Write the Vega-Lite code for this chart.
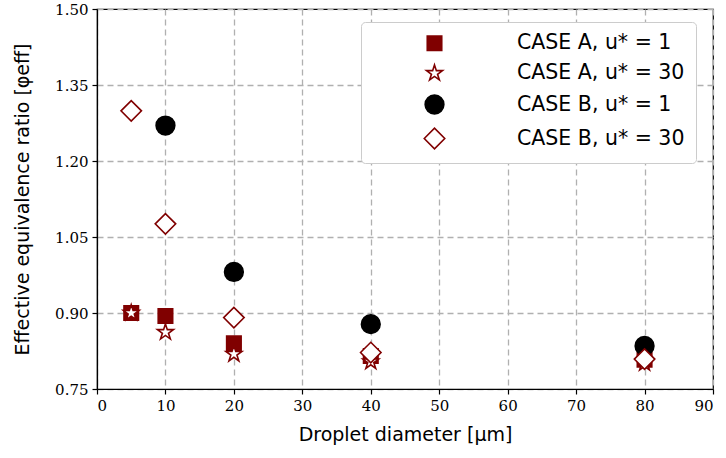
{
  "$schema": "https://vega.github.io/schema/vega-lite/v6.json",
  "width": 616,
  "height": 380,
  "autosize": {"type": "none"},
  "padding": {"left": 97, "top": 9, "right": 13, "bottom": 69},
  "background": "white",
  "config": {
    "view": {"stroke": "black", "strokeWidth": 1.2},
    "axis": {
      "domainColor": "black",
      "domainWidth": 1.2,
      "tickColor": "black",
      "tickSize": 5,
      "tickWidth": 1.2,
      "gridColor": "#b0b0b0",
      "gridDash": [6, 4],
      "gridWidth": 1.3,
      "labelFont": "DejaVu Serif",
      "labelFontSize": 15,
      "labelColor": "black",
      "titleFont": "DejaVu Sans",
      "titleFontSize": 19,
      "titleFontWeight": "normal",
      "titleColor": "black"
    },
    "legend": {
      "orient": "none",
      "legendX": 264,
      "legendY": 13,
      "fillColor": "white",
      "strokeColor": "#cccccc",
      "cornerRadius": 4,
      "padding": 11,
      "labelFont": "DejaVu Sans",
      "labelFontSize": 20.5,
      "labelColor": "black",
      "labelLimit": 300,
      "rowPadding": 7,
      "symbolOffset": 51,
      "labelOffset": 71,
      "symbolStrokeWidth": 1.6
    }
  },
  "data": {
    "values": [
      {"d": 5, "phi": 0.9, "series": "CASE A, u* = 1"},
      {"d": 10, "phi": 0.894, "series": "CASE A, u* = 1"},
      {"d": 20, "phi": 0.84, "series": "CASE A, u* = 1"},
      {"d": 40, "phi": 0.815, "series": "CASE A, u* = 1"},
      {"d": 80, "phi": 0.808, "series": "CASE A, u* = 1"},
      {"d": 5, "phi": 0.9, "series": "CASE A, u* = 30"},
      {"d": 10, "phi": 0.862, "series": "CASE A, u* = 30"},
      {"d": 20, "phi": 0.819, "series": "CASE A, u* = 30"},
      {"d": 40, "phi": 0.804, "series": "CASE A, u* = 30"},
      {"d": 80, "phi": 0.801, "series": "CASE A, u* = 30"},
      {"d": 10, "phi": 1.27, "series": "CASE B, u* = 1"},
      {"d": 20, "phi": 0.981, "series": "CASE B, u* = 1"},
      {"d": 40, "phi": 0.878, "series": "CASE B, u* = 1"},
      {"d": 80, "phi": 0.835, "series": "CASE B, u* = 1"},
      {"d": 5, "phi": 1.299, "series": "CASE B, u* = 30"},
      {"d": 10, "phi": 1.076, "series": "CASE B, u* = 30"},
      {"d": 20, "phi": 0.891, "series": "CASE B, u* = 30"},
      {"d": 40, "phi": 0.822, "series": "CASE B, u* = 30"},
      {"d": 80, "phi": 0.809, "series": "CASE B, u* = 30"}
    ]
  },
  "mark": {"type": "point", "filled": false, "strokeWidth": 1.6, "opacity": 1},
  "encoding": {
    "x": {
      "field": "d", "type": "quantitative",
      "scale": {"domain": [0, 90], "nice": false},
      "axis": {"values": [0,10,20,30,40,50,60,70,80,90], "title": "Droplet diameter [μm]", "titlePadding": 12, "labelPadding": 4}
    },
    "y": {
      "field": "phi", "type": "quantitative",
      "scale": {"domain": [0.75, 1.5], "nice": false, "zero": false},
      "axis": {"values": [0.75, 0.9, 1.05, 1.2, 1.35, 1.5], "format": ".2f", "title": "Effective equivalence ratio [φeff]", "titlePadding": 22, "labelPadding": 4}
    },
    "shape": {
      "field": "series", "type": "nominal",
      "scale": {"domain": ["CASE A, u* = 1", "CASE A, u* = 30", "CASE B, u* = 1", "CASE B, u* = 30"], "range": ["square", "M0,-1L0.2245,-0.309L0.951,-0.309L0.3633,0.118L0.5878,0.809L0,0.382L-0.5878,0.809L-0.3633,0.118L-0.951,-0.309L-0.2245,-0.309Z", "circle", "diamond"]},
      "legend": {"title": null}
    },
    "fill": {
      "field": "series", "type": "nominal",
      "scale": {"domain": ["CASE A, u* = 1", "CASE A, u* = 30", "CASE B, u* = 1", "CASE B, u* = 30"], "range": ["#800000", "white", "black", "white"]},
      "legend": {"title": null}
    },
    "stroke": {
      "field": "series", "type": "nominal",
      "scale": {"domain": ["CASE A, u* = 1", "CASE A, u* = 30", "CASE B, u* = 1", "CASE B, u* = 30"], "range": ["#800000", "#800000", "black", "#800000"]},
      "legend": {"title": null}
    },
    "size": {
      "field": "series", "type": "nominal",
      "scale": {"domain": ["CASE A, u* = 1", "CASE A, u* = 30", "CASE B, u* = 1", "CASE B, u* = 30"], "range": [210, 420, 200, 380]},
      "legend": {"title": null}
    }
  }
}
